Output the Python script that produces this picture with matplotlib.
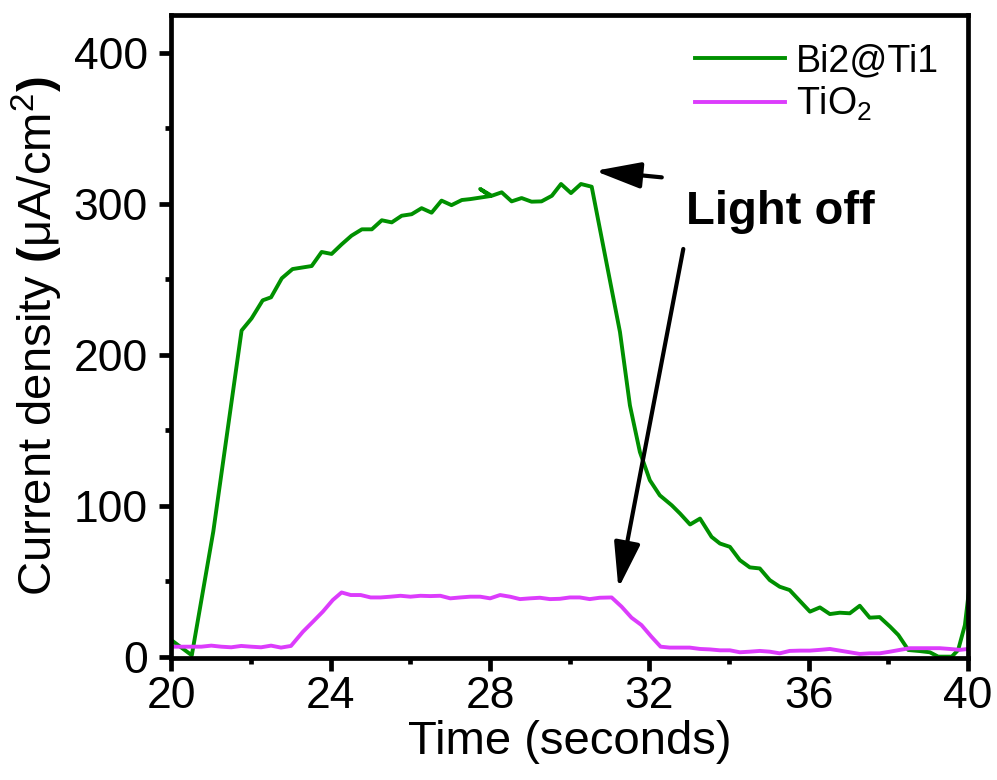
import matplotlib
matplotlib.use("Agg")
import matplotlib.pyplot as plt
from matplotlib.ticker import MultipleLocator

plt.rcParams['font.family'] = ['Liberation Sans', 'DejaVu Sans']
plt.rcParams['mathtext.fontset'] = 'custom'
plt.rcParams['mathtext.rm'] = 'Liberation Sans'
plt.rcParams['mathtext.bf'] = 'Liberation Sans:bold'

# ---- data ----
bi_time = [20.05, 20.51, 21.05, 21.76, 22.01, 22.29, 22.50, 22.77, 23.04, 23.52,
           23.77, 24.02, 24.27, 24.52, 24.78, 25.03, 25.28, 25.53, 25.78, 26.03,
           26.28, 26.53, 26.78, 27.03, 27.29, 27.5, 27.75, 28.0, 27.75, 28.04,
           28.29, 28.54, 28.79, 29.04, 29.29, 29.55, 29.78, 30.03, 30.28, 30.55,
           31.26, 31.51, 31.76, 32.01, 32.26, 32.56, 32.77, 33.02, 33.27, 33.56,
           33.77, 34.02, 34.27, 34.52, 34.77, 35.02, 35.27, 35.52, 35.78, 36.03,
           36.28, 36.53, 36.78, 37.03, 37.28, 37.53, 37.78, 38.04, 38.25, 38.5,
           38.79, 39.04, 39.25, 39.59, 39.75, 39.92, 40.05]
bi_current = [10, 1, 83, 216, 224, 236, 238, 250.6, 256.7, 258.7,
              268, 266.7, 273, 278.8, 283, 283, 289, 287.6, 292, 293,
              297, 294, 302, 299, 302.4, 303, 304, 305, 309.7, 305.2,
              307.5, 301.5, 303.7, 301.3, 301.5, 305.2, 313, 307, 313, 311.2,
              215, 166.4, 135.6, 116.9, 106.9, 100.3, 94.8, 87.6, 91.5, 79.4,
              75, 72.8, 64, 59.2, 58.5, 50.8, 46.4, 44.2, 36.9, 29.9,
              32.7, 28.3, 29.2, 28.8, 33.8, 25.9, 26.3, 20, 14.4, 4.5,
              3.8, 3, 0.1, 0.1, 4.5, 21, 50]

tio2_time = [20.0, 20.5, 20.75, 21.0, 21.25, 21.5, 21.75, 22.0, 22.25, 22.5,
             22.75, 23.0, 23.3, 23.55, 23.8, 24.05, 24.27, 24.5, 24.75, 25.0,
             25.25, 25.5, 25.75, 26.0, 26.25, 26.5, 26.75, 27.0, 27.25, 27.5,
             27.75, 28.0, 28.25, 28.5, 28.75, 29.0, 29.25, 29.5, 29.75, 30.0,
             30.25, 30.5, 30.75, 31.05, 31.3, 31.55, 31.8, 32.05, 32.28, 32.51,
             32.76, 33.01, 33.27, 33.52, 33.77, 34.02, 34.27, 34.52, 34.77, 35.02,
             35.27, 35.52, 35.78, 36.03, 36.28, 36.53, 36.78, 37.03, 37.28, 37.53,
             37.78, 38.04, 38.29, 38.54, 38.79, 39.04, 39.29, 39.54, 39.8, 40.0]
tio2_current = [6.7, 6.7, 6.7, 7.4, 6.7, 6.3, 7.2, 6.7, 6.3, 7.4,
                6.1, 7.2, 16.6, 23.2, 29.9, 37.6, 42.6, 40.9, 40.9, 39.3,
                39.3, 39.8, 40.4, 39.8, 40.4, 40.2, 40.4, 38.7, 39.3, 39.8,
                39.8, 38.7, 40.9, 39.8, 38.2, 38.7, 39.1, 38.2, 38.4, 39.3,
                39.3, 38.2, 39.1, 39.3, 33.2, 25.9, 21, 13.3, 6.7, 6.1,
                6.1, 6.1, 5.2, 4.9, 4.3, 4.3, 3.0, 3.4, 3.9, 3.4,
                2.3, 3.9, 4.1, 4.1, 4.6, 5.2, 4.1, 3.0, 1.9, 2.3,
                2.3, 3.4, 4.6, 5.7, 5.7, 5.7, 5.7, 5.2, 4.6, 5.2]

labels = ["Bi2@Ti1", "TiO$_2$"]
colors = ["#009000", "#dc3cfc"]

# annotation anchor points (data coords)
text_pos = (32.93, 286.5)
arrow_top = ((32.31, 317.4), (30.63, 321.7))     # (tail, head)
arrow_down = ((32.85, 270.0), (31.22, 45.3))

# ---- figure ----
fig = plt.figure(figsize=(9.97, 7.8), dpi=100)
ax = fig.add_axes([0.172, 0.156, 0.799, 0.825])

ax.plot(bi_time, bi_current, color=colors[0], lw=2.8, label=labels[0])
ax.plot(tio2_time, tio2_current, color=colors[1], lw=2.8, label=labels[1])

ax.set_xlim(20, 40)
ax.set_ylim(-1, 425)
ax.xaxis.set_major_locator(MultipleLocator(4))
ax.xaxis.set_minor_locator(MultipleLocator(2))
ax.yaxis.set_major_locator(MultipleLocator(100))
ax.yaxis.set_minor_locator(MultipleLocator(50))
ax.set_yticks([0, 100, 200, 300, 400])

for s in ax.spines.values():
    s.set_linewidth(3.4)
ax.tick_params(which='major', direction='out', length=9, width=3.4, labelsize=32)
ax.tick_params(axis='y', which='major', pad=8)
ax.tick_params(axis='x', which='major', pad=4)
ax.tick_params(which='minor', direction='out', length=4.5, width=3.4)

ax.set_xlabel("Time (seconds)", fontsize=34, labelpad=2)
ax.set_ylabel(r"Current density $\mathbf{(}$μA/cm$^2\mathbf{)}$", fontsize=34, labelpad=6)

ax.legend(loc='upper right', bbox_to_anchor=(0.997, 0.997), frameon=False,
          fontsize=27, handlelength=2.4, handletextpad=0.3, labelspacing=0.15,
          borderaxespad=0.3)

ax.text(text_pos[0], text_pos[1], "Light off", fontsize=34, fontweight='bold',
        ha='left', va='baseline')
for tail, head in (arrow_top, arrow_down):
    ax.annotate('', xy=head, xytext=tail,
                arrowprops=dict(arrowstyle='-|>,head_length=1.4,head_width=0.4',
                                lw=3, color='black', shrinkA=0, shrinkB=0,
                                mutation_scale=20))

fig.savefig("out.png", dpi=100)
